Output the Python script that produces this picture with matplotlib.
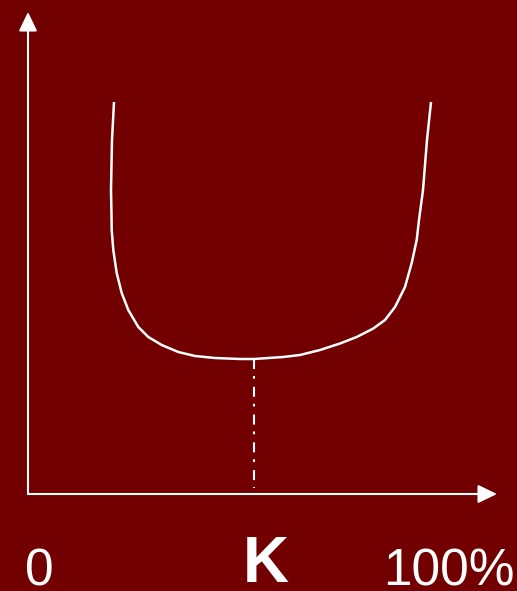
import matplotlib
matplotlib.use("Agg")
import matplotlib.pyplot as plt

# U-shaped curve, in units measured from the origin of the axes
curve_x = [86, 84, 83, 83.5, 83.7, 85.3, 88.7, 93.7, 100.3, 110.3, 120.3, 133.7, 150.3, 167, 187, 212,
           226, 255, 272, 292, 312, 328.7, 345.3, 357, 367, 377, 383.7, 388.7, 391, 395, 399, 403]
curve_y = [392, 354, 304, 279, 264, 244, 221, 201, 184, 167, 157, 149, 142, 138, 136, 135,
           135, 137, 139, 144, 150.5, 157, 165.5, 174, 187, 207, 231, 254, 274, 304, 354, 392]

k_x = 226          # position of the minimum (K)
k_y = 135
x_max = 469
y_max = 482

labels = ["0", "K", "100%"]

bg = "#720000"

fig = plt.figure(figsize=(5.17, 5.91), dpi=100)
fig.patch.set_facecolor(bg)
ax = fig.add_axes([28/517, 97/591, 469/517, 482/591])
ax.set_xlim(0, x_max)
ax.set_ylim(0, y_max)
ax.axis("off")

# axes with arrow heads
arrow = dict(arrowstyle="-|>,head_length=0.58,head_width=0.28", mutation_scale=20,
             color="white", lw=1.5, shrinkA=0, shrinkB=0)
ax.annotate("", xy=(x_max, 0), xytext=(0, 0), arrowprops=arrow, annotation_clip=False)
ax.annotate("", xy=(0, y_max), xytext=(0, 0), arrowprops=arrow, annotation_clip=False)

# the curve
ax.plot(curve_x, curve_y, color="white", lw=1.8, solid_capstyle="butt",
        solid_joinstyle="round", clip_on=False)

# dash-dot drop line at the minimum
lw = 1.5
ax.plot([k_x, k_x], [k_y, 6], color="white", lw=lw,
        linestyle=(0, (7.2/lw, 5.0/lw, 2.0/lw, 5.8/lw)), dash_capstyle="butt")

# labels under the axis
fig.text(25/517, 1 - 585/591, labels[0], color="white", fontsize=37,
         family="Liberation Sans", ha="left", va="baseline")
fig.text(266/517, 1 - 582/591, labels[1], color="white", fontsize=46, fontweight="bold",
         family="Liberation Sans", ha="center", va="baseline")
fig.text(515/517, 1 - 585/591, labels[2], color="white", fontsize=37,
         family="Liberation Sans", ha="right", va="baseline")

fig.savefig("out.png", dpi=100, facecolor=bg)
